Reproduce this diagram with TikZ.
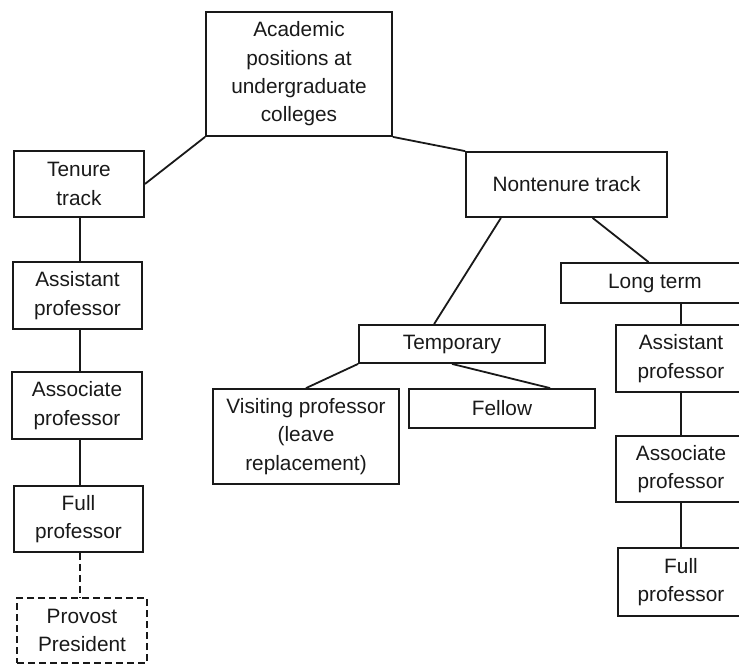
\documentclass[tikz,border=0pt]{standalone}
\usepackage{fontspec}
\setmainfont{Liberation Sans}
\usetikzlibrary{positioning}

\begin{document}
\begin{tikzpicture}[
  x=1pt,y=-1pt,
  line width=1.8pt,
  every node/.style={font=\fontsize{20.8}{28.3}\selectfont,text=black!90},
  posbox/.style={
    draw=black!90,align=center,inner sep=2pt
  },
  optbox/.style={
    posbox,dash pattern=on 7pt off 4pt
  },
  link/.style={draw=black!90}
]

\useasboundingbox (0,0) rectangle (739,665);
\clip (0,0) rectangle (739,665);

% ---- root ----
\node[posbox,minimum width=186pt,minimum height=124pt] (root) at (299,74)
  {Academic\\positions at\\undergraduate\\colleges};

% ---- tenure track column ----
\node[posbox,minimum width=130pt,minimum height=66pt] (tenure) at (79,184)   {Tenure\\track};
\node[posbox,minimum width=129pt,minimum height=67pt] (asstL)  at (77.5,295.5) {Assistant\\professor};
\node[posbox,minimum width=130pt,minimum height=67pt] (assocL) at (77,405.5)  {Associate\\professor};
\node[posbox,minimum width=129pt,minimum height=66pt] (fullL)  at (78.5,519)  {Full\\professor};
\node[optbox,minimum width=130pt,minimum height=65pt] (provost) at (82,630.5) {Provost\\President};

\draw[link] (root.south west) -- (tenure.east);
\draw[link] (tenure.south -| 80,0) -- (asstL.north -| 80,0);
\draw[link] (asstL.south -| 80,0)  -- (assocL.north -| 80,0);
\draw[link] (assocL.south -| 80,0) -- (fullL.north -| 80,0);
\draw[link,dash pattern=on 7pt off 4pt] (fullL.south -| 80,0) -- (provost.north -| 80,0);

% ---- nontenure track ----
\node[posbox,minimum width=201pt,minimum height=65pt] (nontenure) at (566.5,184.5) {Nontenure track};

\draw[link] (root.south east) -- (nontenure.north west);

% ---- temporary branch ----
\node[posbox,minimum width=186pt,minimum height=38pt] (temporary) at (452,344)   {Temporary};
\node[posbox,minimum width=186pt,minimum height=95pt] (visiting)  at (306,436.5) {Visiting professor\\(leave\\replacement)};
\node[posbox,minimum width=186pt,minimum height=39pt] (fellow)    at (502,408.5) {Fellow};

\draw[link] (nontenure.207) -- (temporary.132);
\draw[link] (temporary.south west) -- (visiting.north);
\draw[link] (temporary.south) -- (fellow.23);

% ---- long term branch ----
\node[posbox,minimum width=188pt,minimum height=40pt] (longterm) at (655,283)   {Long term};
\node[posbox,minimum width=130pt,minimum height=67pt] (asstR)    at (681,358.5) {Assistant\\professor};
\node[posbox,minimum width=130pt,minimum height=66pt] (assocR)   at (681,469)   {Associate\\professor};
\node[posbox,minimum width=126pt,minimum height=68pt] (fullR)    at (681,582)   {Full\\professor};

\draw[link] (nontenure.-52) -- (longterm.107);
\draw[link] (asstR.north |- longterm.south) -- (asstR.north);
\draw[link] (asstR.south) -- (assocR.north);
\draw[link] (assocR.south) -- (fullR.north);

\end{tikzpicture}
\end{document}
